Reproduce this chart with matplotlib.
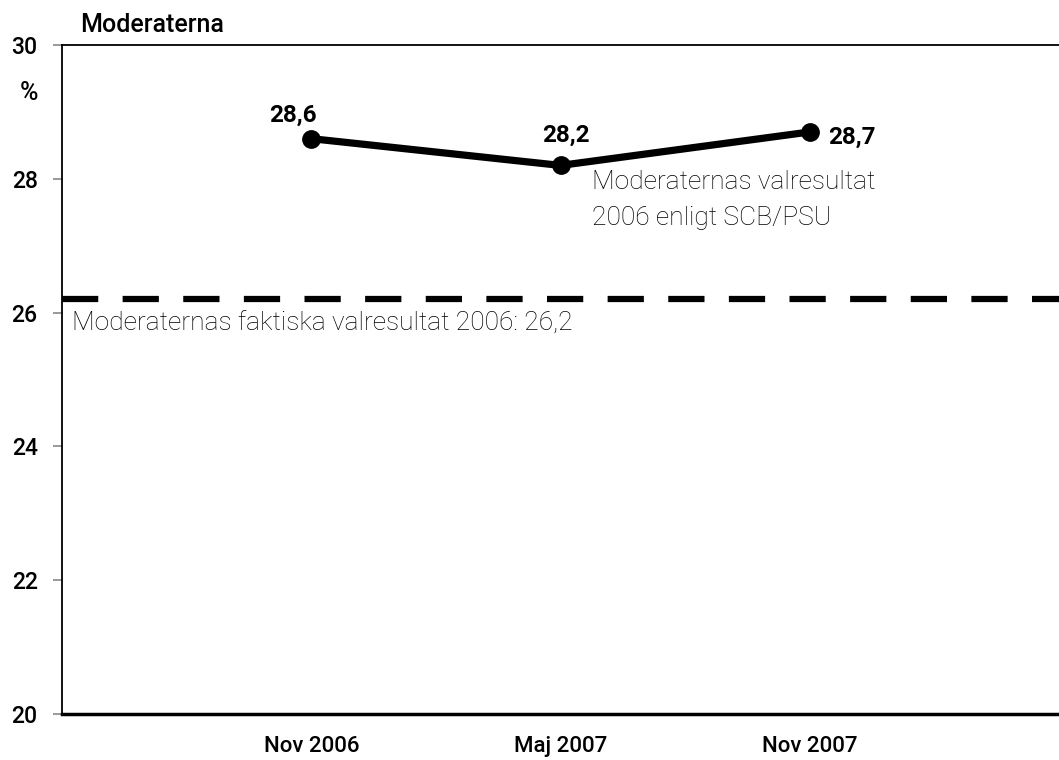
import matplotlib
matplotlib.use("Agg")
import matplotlib.pyplot as plt

periods = ["Nov 2006", "Maj 2007", "Nov 2007"]
values = [28.6, 28.2, 28.7]
value_labels = ["28,6", "28,2", "28,7"]
actual_result = 26.2
x = [1, 2, 3]

plt.rcParams["font.family"] = ["Roboto", "DejaVu Sans"]

fig = plt.figure(figsize=(10.59, 7.6), dpi=100)
ax = fig.add_axes([62 / 1059, 1 - 714 / 760, 1 - 62 / 1059, (714 - 45) / 760])

ax.plot(x, values, color="black", lw=5.2, marker="o", ms=12.5, solid_capstyle="round", zorder=3)
ax.axhline(actual_result, color="black", lw=4.5, dashes=(5.8, 3.9), zorder=2)

ax.set_xlim(0, 4)
ax.set_ylim(20, 30)
ax.set_yticks([20, 22, 24, 26, 28, 30])
ax.set_xticks(x)
ax.set_xticklabels(periods, fontsize=16, fontweight="medium")
ax.tick_params(axis="x", length=0, pad=16)
ax.tick_params(axis="y", length=6.5, width=1.2, color="#888888", pad=11, labelsize=16.5)
for lbl in ax.get_yticklabels():
    lbl.set_fontweight("medium")

ax.spines["right"].set_visible(False)
ax.spines["top"].set_linewidth(1.3)
ax.spines["left"].set_linewidth(1.3)
ax.spines["bottom"].set_linewidth(2.5)

# value labels
ax.annotate(value_labels[0], (x[0], values[0]), xytext=(5, 12), textcoords="offset pixels",
            ha="right", va="bottom", fontsize=17.5, fontweight="bold")
ax.annotate(value_labels[1], (x[1], values[1]), xytext=(5, 19), textcoords="offset pixels",
            ha="center", va="bottom", fontsize=17.5, fontweight="bold")
ax.annotate(value_labels[2], (x[2], values[2]), xytext=(18, -5), textcoords="offset pixels",
            ha="left", va="center", fontsize=17.5, fontweight="bold")

ax.text(592 / 1059, 1 - 182 / 760, "Moderaternas valresultat",
        transform=fig.transFigure, ha="left", va="center", fontsize=19,
        fontweight="light", color="black")
ax.text(592 / 1059, 1 - 218 / 760, "2006 enligt SCB/PSU",
        transform=fig.transFigure, ha="left", va="center", fontsize=19,
        fontweight="light", color="black")
ax.annotate("Moderaternas faktiska valresultat 2006: 26,2", (0, actual_result),
            xytext=(10, -25), textcoords="offset pixels", ha="left", va="center",
            fontsize=19, fontweight="light", color="black")

fig.text(80 / 1059, 1 - 25 / 760, "Moderaterna", ha="left", va="center",
         fontsize=18, fontweight="medium")
fig.text(29 / 1059, 1 - 93 / 760, "%", ha="center", va="center",
         fontsize=18, fontweight="medium")

fig.savefig("out.png", dpi=100)
